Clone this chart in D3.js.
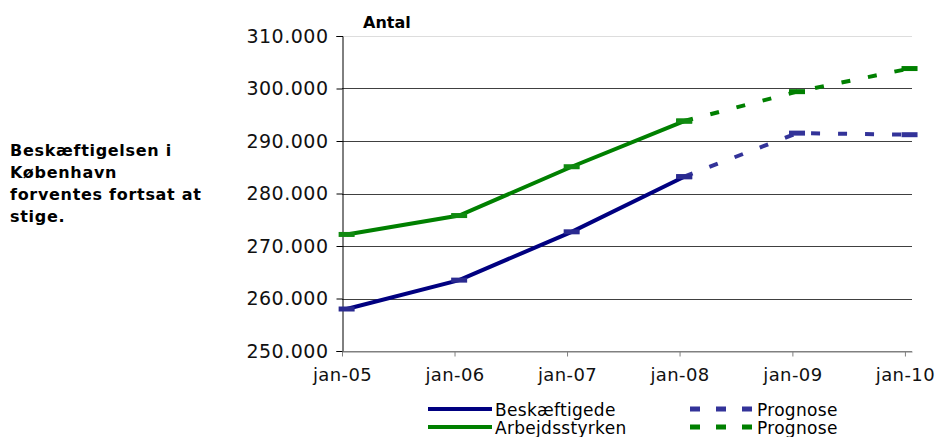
<!DOCTYPE html>
<html>
<head>
<meta charset="utf-8">
<script src="https://cdn.jsdelivr.net/npm/d3@7"></script>
<style>
  body { margin: 0; background: #fff; }
  svg { font-family: "DejaVu Sans", Verdana, sans-serif; }
</style>
</head>
<body>
<div id="chart"></div>
<script>
// data (antal personer)
var actualDates = ["2005-01-16", "2006-01-16", "2007-01-16", "2008-01-16"];
var beskaeftigede = [258000, 263500, 272700, 283200];
var arbejdsstyrken = [272200, 275800, 285100, 293800];

var forecastDates = ["2008-01-16", "2009-01-16", "2010-01-16"];
var prognoseBesk = [283200, 291500, 291200];
var prognoseArb = [293800, 299400, 303800];

var yTicks = [250000, 260000, 270000, 280000, 290000, 300000, 310000];
var xTickYears = ["2005-01-01", "2006-01-01", "2007-01-01", "2008-01-01", "2009-01-01", "2010-01-01"];
var sideText = ["Beskæftigelsen i", "København", "forventes fortsat at", "stige."];

var parse = d3.timeParse("%Y-%m-%d");
var W = 942, H = 437;
var margin = { top: 36, right: 30, bottom: 86, left: 342 };

var svg = d3.select("#chart").append("svg")
    .attr("width", W)
    .attr("height", H);

var x = d3.scaleTime()
    .domain([parse("2005-01-01"), parse("2010-01-24")])
    .range([margin.left, 912]);

var y = d3.scaleLinear()
    .domain([250000, 310000])
    .range([H - margin.bottom, margin.top]);

var loc = d3.formatLocale({ decimal: ",", thousands: ".", grouping: [3], currency: ["", " kr"] });
var fmt = loc.format(",d");
var monthsDa = ["jan","feb","mar","apr","maj","jun","jul","aug","sep","okt","nov","dec"];

// side text
svg.append("text")
    .attr("x", 10)
    .attr("y", 156)
    .attr("font-size", "16px")
    .attr("font-weight", "bold")
    .attr("letter-spacing", "0.7px")
    .attr("fill", "#000")
    .selectAll("tspan")
    .data(sideText)
    .enter().append("tspan")
    .attr("x", 10)
    .attr("dy", function(d, i) { return i == 0 ? 0 : 22; })
    .text(function(d) { return d; });

// gridlines
svg.append("g").selectAll("line")
    .data(yTicks)
    .enter().append("line")
    .attr("x1", margin.left)
    .attr("x2", 912)
    .attr("y1", function(d) { return Math.round(y(d)) + 0.5; })
    .attr("y2", function(d) { return Math.round(y(d)) + 0.5; })
    .attr("stroke", function(d) { return d == 310000 ? "#dddddd" : (d == 250000 ? "#808080" : "#404040"); })
    .attr("stroke-width", 1);

// y axis
var yAxis = svg.append("g")
    .attr("transform", "translate(" + (margin.left + 0.5) + ",0)")
    .call(d3.axisLeft(y).tickValues(yTicks).tickFormat(fmt).tickSize(6).tickPadding(8));
yAxis.select(".domain").attr("stroke", "#000");
yAxis.selectAll(".tick line").attr("stroke", "#000");
yAxis.selectAll("text")
    .attr("font-family", "DejaVu Sans, Verdana, sans-serif")
    .attr("font-size", "19px")
    .attr("letter-spacing", "0.5px")
    .attr("fill", "#111");

// x axis
var xAxis = svg.append("g")
    .attr("transform", "translate(0," + (Math.round(y(250000)) + 0.5) + ")")
    .call(d3.axisBottom(x)
        .tickValues(xTickYears.map(parse))
        .tickFormat(function(d) { return monthsDa[d.getMonth()] + "-" + d3.timeFormat("%y")(d); })
        .tickSize(5).tickPadding(12).tickSizeOuter(0));
xAxis.select(".domain").attr("stroke", "#808080");
xAxis.selectAll(".tick line").attr("stroke", "#808080");
xAxis.selectAll("text")
    .attr("font-family", "DejaVu Sans, Verdana, sans-serif")
    .attr("font-size", "18px")
    .attr("letter-spacing", "0.4px")
    .attr("fill", "#111");

// Antal
svg.append("text")
    .attr("x", 363)
    .attr("y", 28)
    .attr("font-size", "16px")
    .attr("font-weight", "bold")
    .attr("fill", "#000")
    .text("Antal");

function toPts(dates, vals) {
    return dates.map(function(d, i) { return { date: parse(d), value: vals[i] }; });
}

var line = d3.line()
    .x(function(d) { return x(d.date); })
    .y(function(d) { return y(d.value); });

var series = [
    { pts: toPts(forecastDates, prognoseArb), color: "#008000", dash: "9,18" },
    { pts: toPts(forecastDates, prognoseBesk), color: "#333399", dash: "9,18" },
    { pts: toPts(actualDates, arbejdsstyrken), color: "#008000", dash: null },
    { pts: toPts(actualDates, beskaeftigede), color: "#000080", dash: null }
];

series.forEach(function(s) {
    svg.append("path")
        .attr("d", line(s.pts))
        .attr("fill", "none")
        .attr("stroke", s.color)
        .attr("stroke-width", 4)
        .attr("stroke-dasharray", s.dash);

    svg.selectAll(null)
        .data(s.pts)
        .enter().append("rect")
        .attr("x", function(d) { return x(d.date) - 8; })
        .attr("y", function(d) { return y(d.value) - 2.5; })
        .attr("width", 16)
        .attr("height", 5)
        .attr("fill", s.dash ? s.color : (s.color == "#000080" ? "#2a2a90" : "#108a10"));
});

// legend
var legend = [
    { label: "Beskæftigede", color: "#000080", dash: null, lx: 428, ly: 409 },
    { label: "Arbejdsstyrken", color: "#008000", dash: null, lx: 428, ly: 427 },
    { label: "Prognose", color: "#333399", dash: "10,16", lx: 690, ly: 409 },
    { label: "Prognose", color: "#008000", dash: "10,16", lx: 690, ly: 427 }
];

var lg = svg.append("g").selectAll("g")
    .data(legend)
    .enter().append("g");

lg.append("line")
    .attr("x1", function(d) { return d.lx; })
    .attr("x2", function(d) { return d.lx + 64; })
    .attr("y1", function(d) { return d.ly; })
    .attr("y2", function(d) { return d.ly; })
    .attr("stroke", function(d) { return d.color; })
    .attr("stroke-width", function(d) { return d.dash ? 5 : 4; })
    .attr("stroke-dasharray", function(d) { return d.dash; });

lg.append("text")
    .attr("x", function(d) { return d.lx + 67; })
    .attr("y", function(d) { return d.ly + 7; })
    .attr("font-size", "17px")
    .attr("letter-spacing", "0.3px")
    .attr("fill", "#000")
    .text(function(d) { return d.label; });
</script>
</body>
</html>
